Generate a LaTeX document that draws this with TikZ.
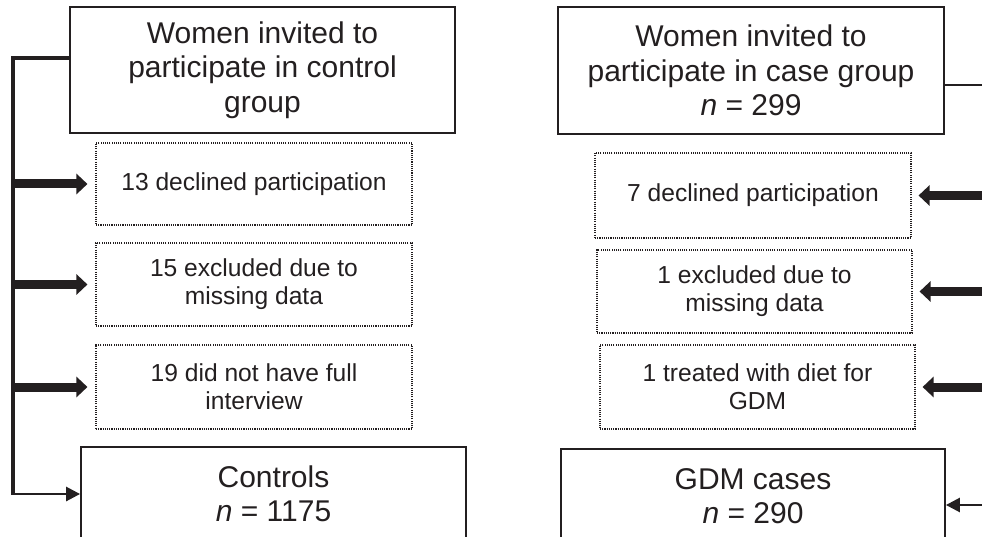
\documentclass[tikz,border=0pt]{standalone}
\usepackage{fontspec}
\setmainfont{Liberation Sans}
\usetikzlibrary{arrows.meta}
\definecolor{ink}{HTML}{231F20}
\begin{document}
\begin{tikzpicture}[x=1pt,y=-1pt,
  mainbox/.style={draw=ink, line width=1.8pt, text=ink, align=center, inner sep=0pt, font=\fontsize{30}{34.5}\selectfont},
  exclbox/.style={draw=ink, line width=1.1pt, dash pattern=on 1.1pt off 1.1pt, text=ink, align=center, inner sep=0pt, font=\fontsize{24.6}{28}\selectfont},
  spine/.style={draw=ink, line width=3.2pt},
  thickarrow/.style={draw=ink, line width=9pt, -{Triangle[length=11pt,width=20pt]}},
  thinarrow/.style={draw=ink, line width=2.6pt, -{Triangle[length=14pt,width=14pt]}},
]
\useasboundingbox (0,0) rectangle (982,537);
\clip (0,0) rectangle (982,537);

% left column
\node[mainbox, minimum width=385pt, minimum height=126pt] (ctop) at (262.5,70) {Women invited to\\participate in control\\group};
\node[exclbox, minimum width=316pt, minimum height=82pt] (c1) at (254,184) {13 declined participation};
\node[exclbox, minimum width=316pt, minimum height=83pt] (c2) at (254,284.5) {15 excluded due to\\missing data};
\node[exclbox, minimum width=316pt, minimum height=84pt] (c3) at (254,387) {19 did not have full\\interview};
\node[mainbox, minimum width=385pt, minimum height=94pt] (ctrl) at (273.5,494) {Controls\\\textit{n} = 1175};

% right column
\node[mainbox, minimum width=386pt, minimum height=127pt] (gtop) at (751,70.5) {Women invited to\\participate in case group\\\textit{n} = 299};
\node[exclbox, minimum width=316pt, minimum height=85pt] (g1) at (753,195.5) {7 declined participation};
\node[exclbox, minimum width=315pt, minimum height=83pt] (g2) at (754.5,291.5) {1 excluded due to\\missing data};
\node[exclbox, minimum width=315pt, minimum height=84pt] (g3) at (757.5,387) {1 treated with diet for\\GDM};
\node[mainbox, minimum width=384pt, minimum height=94pt] (gdm) at (753,496) {GDM cases\\\textit{n} = 290};

% left connectors
\coordinate (sTop) at (13,58);
\coordinate (sBot) at (13,494);
\draw[spine] (ctop.west |- sTop) -- (sTop) -- (sBot);
\draw[thinarrow] ([xshift=-1.6pt]sBot) -- (ctrl.west);
\draw[thickarrow] (sTop |- c1.west) -- ([xshift=-8pt]c1.west);
\draw[thickarrow] (sTop |- c2.west) -- ([xshift=-8pt]c2.west);
\draw[thickarrow] (sTop |- c3.west) -- ([xshift=-8pt]c3.west);

% right connectors
\coordinate (rTop) at (990,85);
\coordinate (rBot) at (990,505);
\draw[spine, line width=2.6pt] (gtop.east |- rTop) -- (rTop);
\draw[thickarrow] (rTop |- g1.east) -- ([xshift=7pt]g1.east);
\draw[thickarrow] (rTop |- g2.east) -- ([xshift=7pt]g2.east);
\draw[thickarrow] (rTop |- g3.east) -- ([xshift=7pt]g3.east);
\draw[thinarrow] (rBot) -- (gdm.east |- rBot);
\end{tikzpicture}
\end{document}
